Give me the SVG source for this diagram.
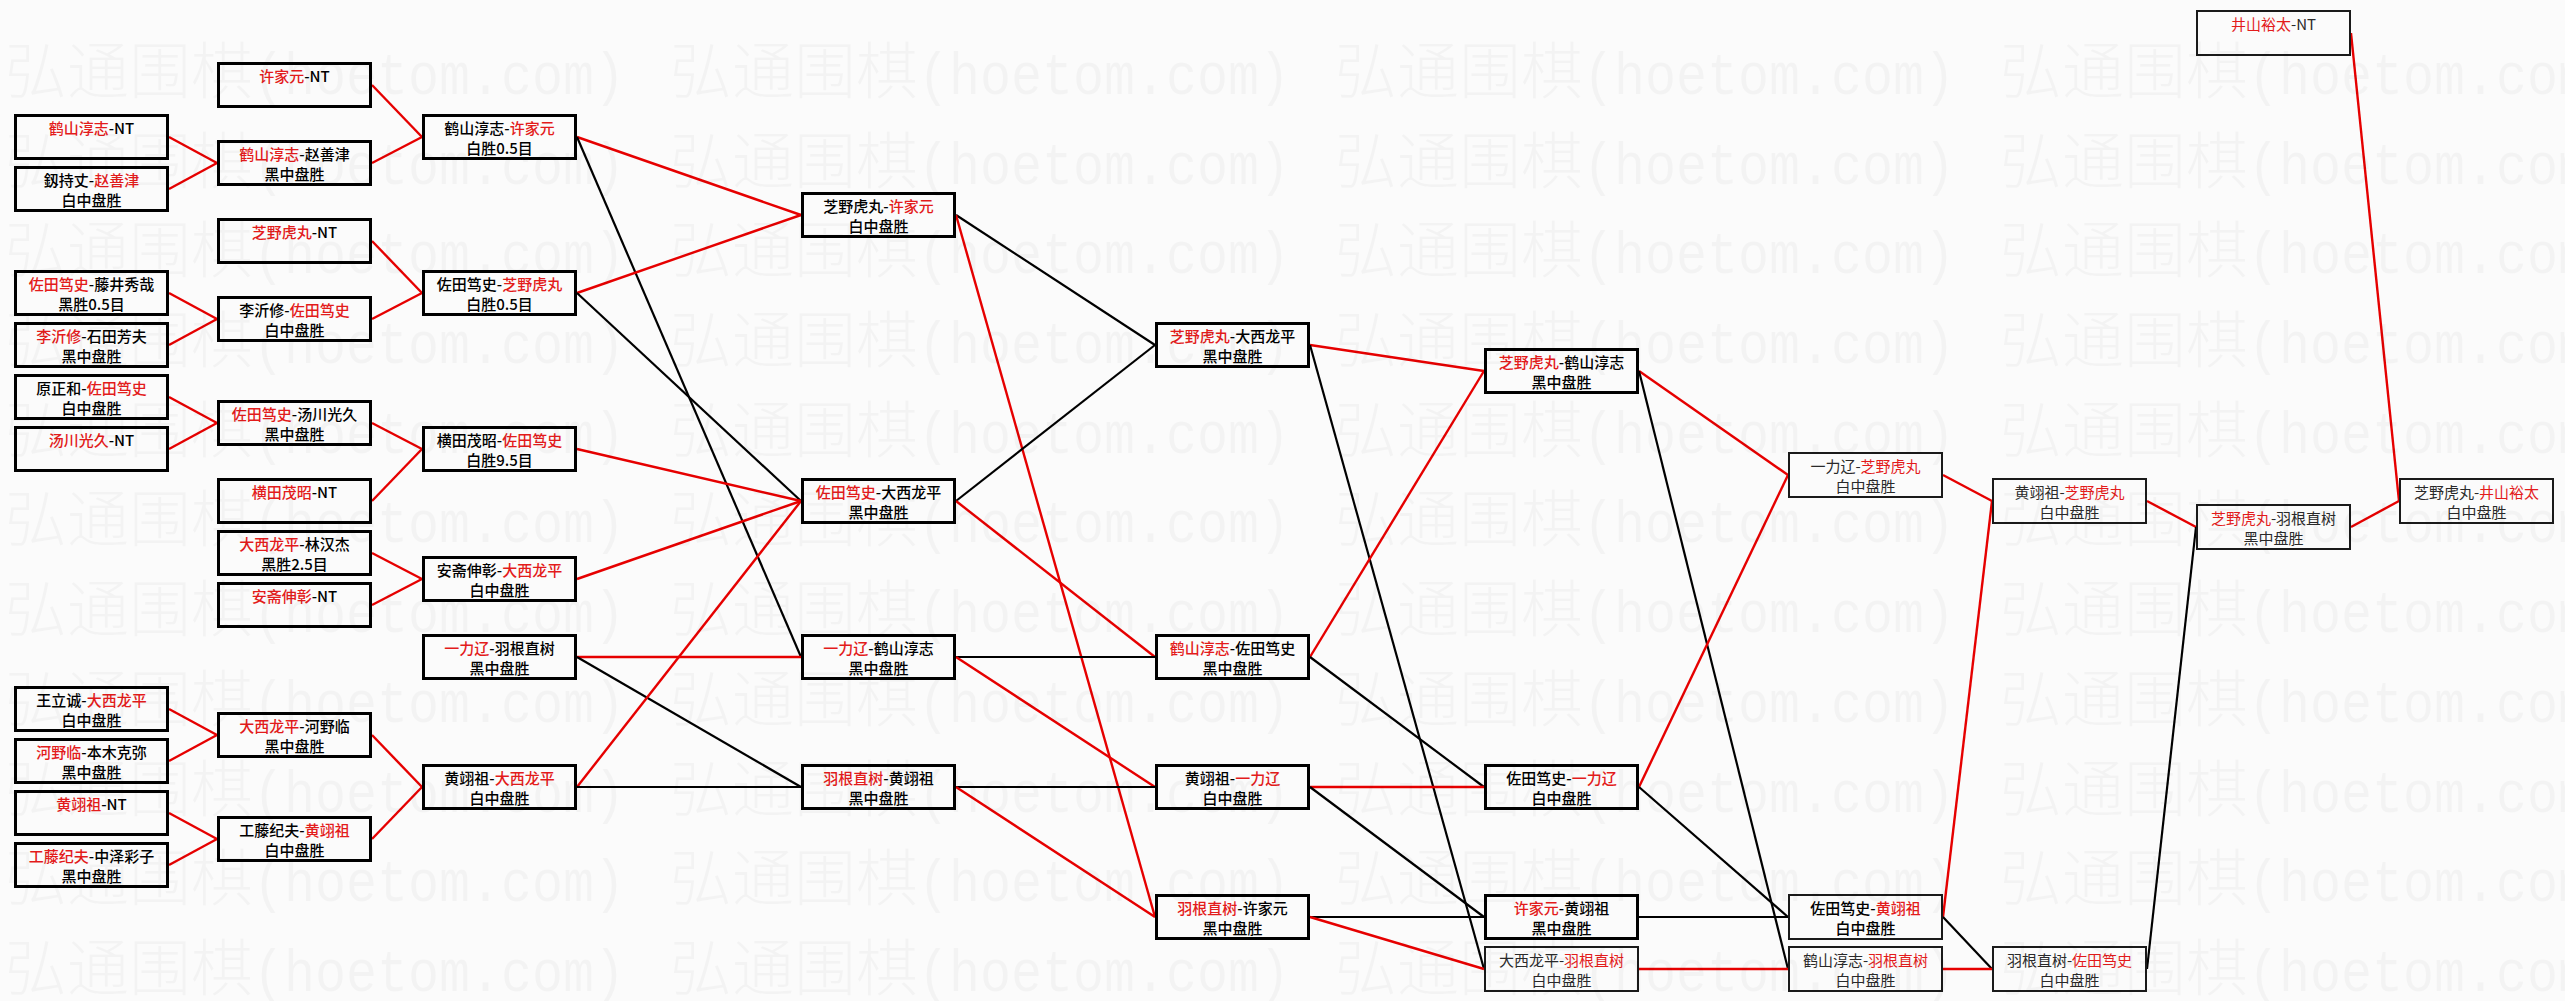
<svg xmlns="http://www.w3.org/2000/svg" xmlns:xlink="http://www.w3.org/1999/xlink" width="2565" height="1001" viewBox="0 0 2565 1001">
<style>
.b{fill:none;stroke:#000;stroke-width:3}
.bt{fill:none;stroke:#1a1a1a;stroke-width:2}
.t{font-family:"Noto Sans CJK SC","Noto Sans",sans-serif;font-size:15px;font-weight:500;text-anchor:middle;fill:#000}
.tl{fill:#2a2a2a;font-weight:400}
.r{fill:#e31b1b}
.cr{stroke:#e60000;stroke-width:2.4;fill:none}
.ck{stroke:#000;stroke-width:2.2;fill:none}
.wmc{font-family:"Noto Sans CJK SC",sans-serif;font-size:62px;font-weight:300;fill:#000;fill-opacity:0.03}
.wml{font-family:"Liberation Mono","Noto Sans CJK SC",monospace;font-size:60px;fill:#000;fill-opacity:0.03}
</style>
<defs>
<g id="wm">
<text class="wmc" x="0" y="0" textLength="248" lengthAdjust="spacingAndGlyphs">弘通围棋</text>
<text class="wml" x="248" y="0" textLength="372" lengthAdjust="spacingAndGlyphs">(hoetom.com)</text>
</g>
</defs>
<rect x="0" y="0" width="2565" height="1001" fill="#fbfbfb"/>

<g id="connectors">
<line class="cr" x1="169" y1="137" x2="217" y2="163"/>
<line class="cr" x1="169" y1="189" x2="217" y2="163"/>
<line class="cr" x1="169" y1="293" x2="217" y2="319"/>
<line class="cr" x1="169" y1="345" x2="217" y2="319"/>
<line class="cr" x1="169" y1="397" x2="217" y2="423"/>
<line class="cr" x1="169" y1="449" x2="217" y2="423"/>
<line class="cr" x1="169" y1="709" x2="217" y2="735"/>
<line class="cr" x1="169" y1="761" x2="217" y2="735"/>
<line class="cr" x1="169" y1="813" x2="217" y2="839"/>
<line class="cr" x1="169" y1="865" x2="217" y2="839"/>
<line class="cr" x1="372" y1="85" x2="422" y2="137"/>
<line class="cr" x1="372" y1="163" x2="422" y2="137"/>
<line class="cr" x1="372" y1="241" x2="422" y2="293"/>
<line class="cr" x1="372" y1="319" x2="422" y2="293"/>
<line class="cr" x1="372" y1="423" x2="422" y2="449"/>
<line class="cr" x1="372" y1="501" x2="422" y2="449"/>
<line class="cr" x1="372" y1="553" x2="422" y2="579"/>
<line class="cr" x1="372" y1="605" x2="422" y2="579"/>
<line class="cr" x1="372" y1="735" x2="422" y2="787"/>
<line class="cr" x1="372" y1="839" x2="422" y2="787"/>
<line class="cr" x1="577" y1="137" x2="801" y2="215"/>
<line class="ck" x1="577" y1="137" x2="801" y2="657"/>
<line class="cr" x1="577" y1="293" x2="801" y2="215"/>
<line class="ck" x1="577" y1="293" x2="801" y2="501"/>
<line class="cr" x1="577" y1="449" x2="801" y2="501"/>
<line class="cr" x1="577" y1="579" x2="801" y2="501"/>
<line class="cr" x1="577" y1="657" x2="801" y2="657"/>
<line class="ck" x1="577" y1="657" x2="801" y2="787"/>
<line class="cr" x1="577" y1="787" x2="801" y2="501"/>
<line class="ck" x1="577" y1="787" x2="801" y2="787"/>
<line class="ck" x1="956" y1="215" x2="1155" y2="345"/>
<line class="cr" x1="956" y1="215" x2="1155" y2="917"/>
<line class="ck" x1="956" y1="501" x2="1155" y2="345"/>
<line class="cr" x1="956" y1="501" x2="1155" y2="657"/>
<line class="ck" x1="956" y1="657" x2="1155" y2="657"/>
<line class="cr" x1="956" y1="657" x2="1155" y2="787"/>
<line class="ck" x1="956" y1="787" x2="1155" y2="787"/>
<line class="cr" x1="956" y1="787" x2="1155" y2="917"/>
<line class="cr" x1="1310" y1="345" x2="1484" y2="371"/>
<line class="ck" x1="1310" y1="345" x2="1484" y2="969"/>
<line class="cr" x1="1310" y1="657" x2="1484" y2="371"/>
<line class="ck" x1="1310" y1="657" x2="1484" y2="787"/>
<line class="cr" x1="1310" y1="787" x2="1484" y2="787"/>
<line class="ck" x1="1310" y1="787" x2="1484" y2="917"/>
<line class="ck" x1="1310" y1="917" x2="1484" y2="917"/>
<line class="cr" x1="1310" y1="917" x2="1484" y2="969"/>
<line class="cr" x1="1639" y1="371" x2="1788" y2="475"/>
<line class="ck" x1="1639" y1="371" x2="1788" y2="969"/>
<line class="cr" x1="1639" y1="787" x2="1788" y2="475"/>
<line class="ck" x1="1639" y1="787" x2="1788" y2="917"/>
<line class="ck" x1="1639" y1="917" x2="1788" y2="917"/>
<line class="cr" x1="1639" y1="969" x2="1788" y2="969"/>
<line class="cr" x1="1943" y1="475" x2="1992" y2="501"/>
<line class="cr" x1="1943" y1="917" x2="1992" y2="501"/>
<line class="ck" x1="1943" y1="917" x2="1992" y2="969"/>
<line class="cr" x1="1943" y1="969" x2="1992" y2="969"/>
<line class="cr" x1="2147" y1="501" x2="2196" y2="527"/>
<line class="ck" x1="2147" y1="969" x2="2196" y2="527"/>
<line class="cr" x1="2351" y1="527" x2="2399" y2="501"/>
<line class="cr" x1="2351" y1="33" x2="2399" y2="501"/>
</g>

<!-- column 1 -->
<g id="n-a1"><rect class="b" x="15.5" y="115.5" width="152" height="43"/><text class="t" x="91.5" y="134"><tspan class="r">鹤山淳志</tspan>-NT</text></g>
<g id="n-a2"><rect class="b" x="15.5" y="167.5" width="152" height="43"/><text class="t" x="91.5" y="186">釼持丈-<tspan class="r">赵善津</tspan></text><text class="t" x="91.5" y="206">白中盘胜</text></g>
<g id="n-a3"><rect class="b" x="15.5" y="271.5" width="152" height="43"/><text class="t" x="91.5" y="290"><tspan class="r">佐田笃史</tspan>-藤井秀哉</text><text class="t" x="91.5" y="310">黑胜0.5目</text></g>
<g id="n-a4"><rect class="b" x="15.5" y="323.5" width="152" height="43"/><text class="t" x="91.5" y="342"><tspan class="r">李沂修</tspan>-石田芳夫</text><text class="t" x="91.5" y="362">黑中盘胜</text></g>
<g id="n-a5"><rect class="b" x="15.5" y="375.5" width="152" height="43"/><text class="t" x="91.5" y="394">原正和-<tspan class="r">佐田笃史</tspan></text><text class="t" x="91.5" y="414">白中盘胜</text></g>
<g id="n-a6"><rect class="b" x="15.5" y="427.5" width="152" height="43"/><text class="t" x="91.5" y="446"><tspan class="r">汤川光久</tspan>-NT</text></g>
<g id="n-a7"><rect class="b" x="15.5" y="687.5" width="152" height="43"/><text class="t" x="91.5" y="706">王立诚-<tspan class="r">大西龙平</tspan></text><text class="t" x="91.5" y="726">白中盘胜</text></g>
<g id="n-a8"><rect class="b" x="15.5" y="739.5" width="152" height="43"/><text class="t" x="91.5" y="758"><tspan class="r">河野临</tspan>-本木克弥</text><text class="t" x="91.5" y="778">黑中盘胜</text></g>
<g id="n-a9"><rect class="b" x="15.5" y="791.5" width="152" height="43"/><text class="t" x="91.5" y="810"><tspan class="r">黄翊祖</tspan>-NT</text></g>
<g id="n-a10"><rect class="b" x="15.5" y="843.5" width="152" height="43"/><text class="t" x="91.5" y="862"><tspan class="r">工藤纪夫</tspan>-中泽彩子</text><text class="t" x="91.5" y="882">黑中盘胜</text></g>

<!-- column 2 -->
<g id="n-b1"><rect class="b" x="218.5" y="63.5" width="152" height="43"/><text class="t" x="294.5" y="82"><tspan class="r">许家元</tspan>-NT</text></g>
<g id="n-b2"><rect class="b" x="218.5" y="141.5" width="152" height="43"/><text class="t" x="294.5" y="160"><tspan class="r">鹤山淳志</tspan>-赵善津</text><text class="t" x="294.5" y="180">黑中盘胜</text></g>
<g id="n-b3"><rect class="b" x="218.5" y="219.5" width="152" height="43"/><text class="t" x="294.5" y="238"><tspan class="r">芝野虎丸</tspan>-NT</text></g>
<g id="n-b4"><rect class="b" x="218.5" y="297.5" width="152" height="43"/><text class="t" x="294.5" y="316">李沂修-<tspan class="r">佐田笃史</tspan></text><text class="t" x="294.5" y="336">白中盘胜</text></g>
<g id="n-b5"><rect class="b" x="218.5" y="401.5" width="152" height="43"/><text class="t" x="294.5" y="420"><tspan class="r">佐田笃史</tspan>-汤川光久</text><text class="t" x="294.5" y="440">黑中盘胜</text></g>
<g id="n-b6"><rect class="b" x="218.5" y="479.5" width="152" height="43"/><text class="t" x="294.5" y="498"><tspan class="r">横田茂昭</tspan>-NT</text></g>
<g id="n-b7"><rect class="b" x="218.5" y="531.5" width="152" height="43"/><text class="t" x="294.5" y="550"><tspan class="r">大西龙平</tspan>-林汉杰</text><text class="t" x="294.5" y="570">黑胜2.5目</text></g>
<g id="n-b8"><rect class="b" x="218.5" y="583.5" width="152" height="43"/><text class="t" x="294.5" y="602"><tspan class="r">安斋伸彰</tspan>-NT</text></g>
<g id="n-b9"><rect class="b" x="218.5" y="713.5" width="152" height="43"/><text class="t" x="294.5" y="732"><tspan class="r">大西龙平</tspan>-河野临</text><text class="t" x="294.5" y="752">黑中盘胜</text></g>
<g id="n-b10"><rect class="b" x="218.5" y="817.5" width="152" height="43"/><text class="t" x="294.5" y="836">工藤纪夫-<tspan class="r">黄翊祖</tspan></text><text class="t" x="294.5" y="856">白中盘胜</text></g>

<!-- column 3 -->
<g id="n-c1"><rect class="b" x="423.5" y="115.5" width="152" height="43"/><text class="t" x="499.5" y="134">鹤山淳志-<tspan class="r">许家元</tspan></text><text class="t" x="499.5" y="154">白胜0.5目</text></g>
<g id="n-c2"><rect class="b" x="423.5" y="271.5" width="152" height="43"/><text class="t" x="499.5" y="290">佐田笃史-<tspan class="r">芝野虎丸</tspan></text><text class="t" x="499.5" y="310">白胜0.5目</text></g>
<g id="n-c3"><rect class="b" x="423.5" y="427.5" width="152" height="43"/><text class="t" x="499.5" y="446">横田茂昭-<tspan class="r">佐田笃史</tspan></text><text class="t" x="499.5" y="466">白胜9.5目</text></g>
<g id="n-c4"><rect class="b" x="423.5" y="557.5" width="152" height="43"/><text class="t" x="499.5" y="576">安斋伸彰-<tspan class="r">大西龙平</tspan></text><text class="t" x="499.5" y="596">白中盘胜</text></g>
<g id="n-c5"><rect class="b" x="423.5" y="635.5" width="152" height="43"/><text class="t" x="499.5" y="654"><tspan class="r">一力辽</tspan>-羽根直树</text><text class="t" x="499.5" y="674">黑中盘胜</text></g>
<g id="n-c6"><rect class="b" x="423.5" y="765.5" width="152" height="43"/><text class="t" x="499.5" y="784">黄翊祖-<tspan class="r">大西龙平</tspan></text><text class="t" x="499.5" y="804">白中盘胜</text></g>

<!-- column 4 -->
<g id="n-d1"><rect class="b" x="802.5" y="193.5" width="152" height="43"/><text class="t" x="878.5" y="212">芝野虎丸-<tspan class="r">许家元</tspan></text><text class="t" x="878.5" y="232">白中盘胜</text></g>
<g id="n-d2"><rect class="b" x="802.5" y="479.5" width="152" height="43"/><text class="t" x="878.5" y="498"><tspan class="r">佐田笃史</tspan>-大西龙平</text><text class="t" x="878.5" y="518">黑中盘胜</text></g>
<g id="n-d3"><rect class="b" x="802.5" y="635.5" width="152" height="43"/><text class="t" x="878.5" y="654"><tspan class="r">一力辽</tspan>-鹤山淳志</text><text class="t" x="878.5" y="674">黑中盘胜</text></g>
<g id="n-d4"><rect class="b" x="802.5" y="765.5" width="152" height="43"/><text class="t" x="878.5" y="784"><tspan class="r">羽根直树</tspan>-黄翊祖</text><text class="t" x="878.5" y="804">黑中盘胜</text></g>

<!-- column 5 -->
<g id="n-e1"><rect class="b" x="1156.5" y="323.5" width="152" height="43"/><text class="t" x="1232.5" y="342"><tspan class="r">芝野虎丸</tspan>-大西龙平</text><text class="t" x="1232.5" y="362">黑中盘胜</text></g>
<g id="n-e2"><rect class="b" x="1156.5" y="635.5" width="152" height="43"/><text class="t" x="1232.5" y="654"><tspan class="r">鹤山淳志</tspan>-佐田笃史</text><text class="t" x="1232.5" y="674">黑中盘胜</text></g>
<g id="n-e3"><rect class="b" x="1156.5" y="765.5" width="152" height="43"/><text class="t" x="1232.5" y="784">黄翊祖-<tspan class="r">一力辽</tspan></text><text class="t" x="1232.5" y="804">白中盘胜</text></g>
<g id="n-e4"><rect class="b" x="1156.5" y="895.5" width="152" height="43"/><text class="t" x="1232.5" y="914"><tspan class="r">羽根直树</tspan>-许家元</text><text class="t" x="1232.5" y="934">黑中盘胜</text></g>

<!-- column 6 -->
<g id="n-f1"><rect class="b" x="1485.5" y="349.5" width="152" height="43"/><text class="t" x="1561.5" y="368"><tspan class="r">芝野虎丸</tspan>-鹤山淳志</text><text class="t" x="1561.5" y="388">黑中盘胜</text></g>
<g id="n-f2"><rect class="b" x="1485.5" y="765.5" width="152" height="43"/><text class="t" x="1561.5" y="784">佐田笃史-<tspan class="r">一力辽</tspan></text><text class="t" x="1561.5" y="804">白中盘胜</text></g>
<g id="n-f3"><rect class="b" x="1485.5" y="895.5" width="152" height="43"/><text class="t" x="1561.5" y="914"><tspan class="r">许家元</tspan>-黄翊祖</text><text class="t" x="1561.5" y="934">黑中盘胜</text></g>
<g id="n-f4"><rect class="bt" x="1485" y="947" width="153" height="44"/><text class="t tl" x="1561.5" y="966">大西龙平-<tspan class="r">羽根直树</tspan></text><text class="t tl" x="1561.5" y="986">白中盘胜</text></g>

<!-- column 7 -->
<g id="n-g1"><rect class="bt" x="1789" y="453" width="153" height="44"/><text class="t tl" x="1865.5" y="472">一力辽-<tspan class="r">芝野虎丸</tspan></text><text class="t tl" x="1865.5" y="492">白中盘胜</text></g>
<g id="n-g2"><rect class="bt" x="1789" y="895" width="153" height="44"/><text class="t" x="1865.5" y="914">佐田笃史-<tspan class="r">黄翊祖</tspan></text><text class="t" x="1865.5" y="934">白中盘胜</text></g>
<g id="n-g3"><rect class="bt" x="1789" y="947" width="153" height="44"/><text class="t tl" x="1865.5" y="966">鹤山淳志-<tspan class="r">羽根直树</tspan></text><text class="t tl" x="1865.5" y="986">白中盘胜</text></g>

<!-- column 8 -->
<g id="n-h1"><rect class="bt" x="1993" y="479" width="153" height="44"/><text class="t tl" x="2069.5" y="498">黄翊祖-<tspan class="r">芝野虎丸</tspan></text><text class="t tl" x="2069.5" y="518">白中盘胜</text></g>
<g id="n-h2"><rect class="bt" x="1993" y="947" width="153" height="44"/><text class="t tl" x="2069.5" y="966">羽根直树-<tspan class="r">佐田笃史</tspan></text><text class="t tl" x="2069.5" y="986">白中盘胜</text></g>

<!-- column 9 -->
<g id="n-i0"><rect class="bt" x="2197" y="11" width="153" height="44"/><text class="t tl" x="2273.5" y="30"><tspan class="r">井山裕太</tspan>-NT</text></g>
<g id="n-i1"><rect class="bt" x="2197" y="505" width="153" height="44"/><text class="t tl" x="2273.5" y="524"><tspan class="r">芝野虎丸</tspan>-羽根直树</text><text class="t tl" x="2273.5" y="544">黑中盘胜</text></g>

<!-- column 10 -->
<g id="n-j1"><rect class="bt" x="2400" y="479" width="153" height="44"/><text class="t tl" x="2476.5" y="498">芝野虎丸-<tspan class="r">井山裕太</tspan></text><text class="t tl" x="2476.5" y="518">白中盘胜</text></g>

<g id="watermark">
<use xlink:href="#wm" x="5" y="94"/><use xlink:href="#wm" x="670" y="94"/><use xlink:href="#wm" x="1335" y="94"/><use xlink:href="#wm" x="2000" y="94"/>
<use xlink:href="#wm" x="5" y="184"/><use xlink:href="#wm" x="670" y="184"/><use xlink:href="#wm" x="1335" y="184"/><use xlink:href="#wm" x="2000" y="184"/>
<use xlink:href="#wm" x="5" y="273"/><use xlink:href="#wm" x="670" y="273"/><use xlink:href="#wm" x="1335" y="273"/><use xlink:href="#wm" x="2000" y="273"/>
<use xlink:href="#wm" x="5" y="363"/><use xlink:href="#wm" x="670" y="363"/><use xlink:href="#wm" x="1335" y="363"/><use xlink:href="#wm" x="2000" y="363"/>
<use xlink:href="#wm" x="5" y="453"/><use xlink:href="#wm" x="670" y="453"/><use xlink:href="#wm" x="1335" y="453"/><use xlink:href="#wm" x="2000" y="453"/>
<use xlink:href="#wm" x="5" y="542"/><use xlink:href="#wm" x="670" y="542"/><use xlink:href="#wm" x="1335" y="542"/><use xlink:href="#wm" x="2000" y="542"/>
<use xlink:href="#wm" x="5" y="632"/><use xlink:href="#wm" x="670" y="632"/><use xlink:href="#wm" x="1335" y="632"/><use xlink:href="#wm" x="2000" y="632"/>
<use xlink:href="#wm" x="5" y="722"/><use xlink:href="#wm" x="670" y="722"/><use xlink:href="#wm" x="1335" y="722"/><use xlink:href="#wm" x="2000" y="722"/>
<use xlink:href="#wm" x="5" y="812"/><use xlink:href="#wm" x="670" y="812"/><use xlink:href="#wm" x="1335" y="812"/><use xlink:href="#wm" x="2000" y="812"/>
<use xlink:href="#wm" x="5" y="901"/><use xlink:href="#wm" x="670" y="901"/><use xlink:href="#wm" x="1335" y="901"/><use xlink:href="#wm" x="2000" y="901"/>
<use xlink:href="#wm" x="5" y="991"/><use xlink:href="#wm" x="670" y="991"/><use xlink:href="#wm" x="1335" y="991"/><use xlink:href="#wm" x="2000" y="991"/>
</g>
</svg>
